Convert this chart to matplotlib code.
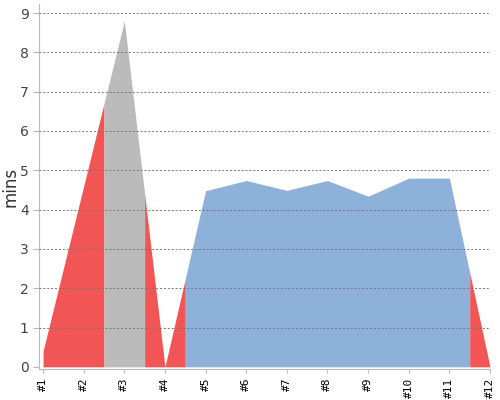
import numpy as np
import matplotlib
matplotlib.use('Agg')
import matplotlib.pyplot as plt

labels = ['#1', '#2', '#3', '#4', '#5', '#6', '#7', '#8', '#9', '#10', '#11', '#12']
mins = [0.4, 4.6, 8.8, 0.0, 4.48, 4.74, 4.49, 4.74, 4.34, 4.8, 4.8, 0.0]
groups = ['red', 'red', 'gray', 'red', 'blue', 'blue', 'blue', 'blue', 'blue', 'blue', 'blue', 'red']

palette = {'red': '#f25555', 'gray': '#bbbbbb', 'blue': '#8eb1d9'}


def runs(groups):
    # contiguous stretches of points sharing a colour
    out = []
    start = 0
    for i in range(1, len(groups) + 1):
        if i == len(groups) or groups[i] != groups[start]:
            out.append((start, i - 1, groups[start]))
            start = i
    return out


def segment(a, b, x, y):
    # area for points a..b: from halfway before a to halfway after b
    lo = max(a - 0.5, 0)
    hi = min(b + 0.5, len(x) - 1)
    xs = [lo] + [v for v in x if lo < v < hi] + [hi]
    return xs, np.interp(xs, x, y)


x = np.arange(len(labels))
fig = plt.figure(figsize=(5, 4), dpi=100)
ax = fig.add_axes([0.078, 0.077, 0.902, 0.913])

for a, b, g in runs(groups):
    xs, ys = segment(a, b, x, mins)
    ax.fill_between(xs, 0, ys, color=palette[g], linewidth=0, zorder=1)

for v in range(1, 10):
    ax.axhline(v, color='#777777', linewidth=0.7, linestyle=(0, (2, 2)), zorder=3)

ax.set_xlim(-0.1, 11)
ax.set_ylim(-0.06, 9.23)
ax.set_yticks(range(10))
ax.set_xticks(x)
ax.set_xticklabels(labels, rotation=90, fontsize=8, family='DejaVu Sans Mono')
ax.tick_params(axis='y', labelsize=10, labelcolor='#444444', color='#bbbbbb', length=4)
ax.tick_params(axis='x', color='#bbbbbb', length=3, pad=3)
for side in ['top', 'right']:
    ax.spines[side].set_visible(False)
for side in ['left', 'bottom']:
    ax.spines[side].set_color('#bbbbbb')
ax.set_ylabel('mins', fontsize=12, color='#333333')
ax.yaxis.set_label_coords(-0.044, 0.5)

fig.savefig('out.png')
